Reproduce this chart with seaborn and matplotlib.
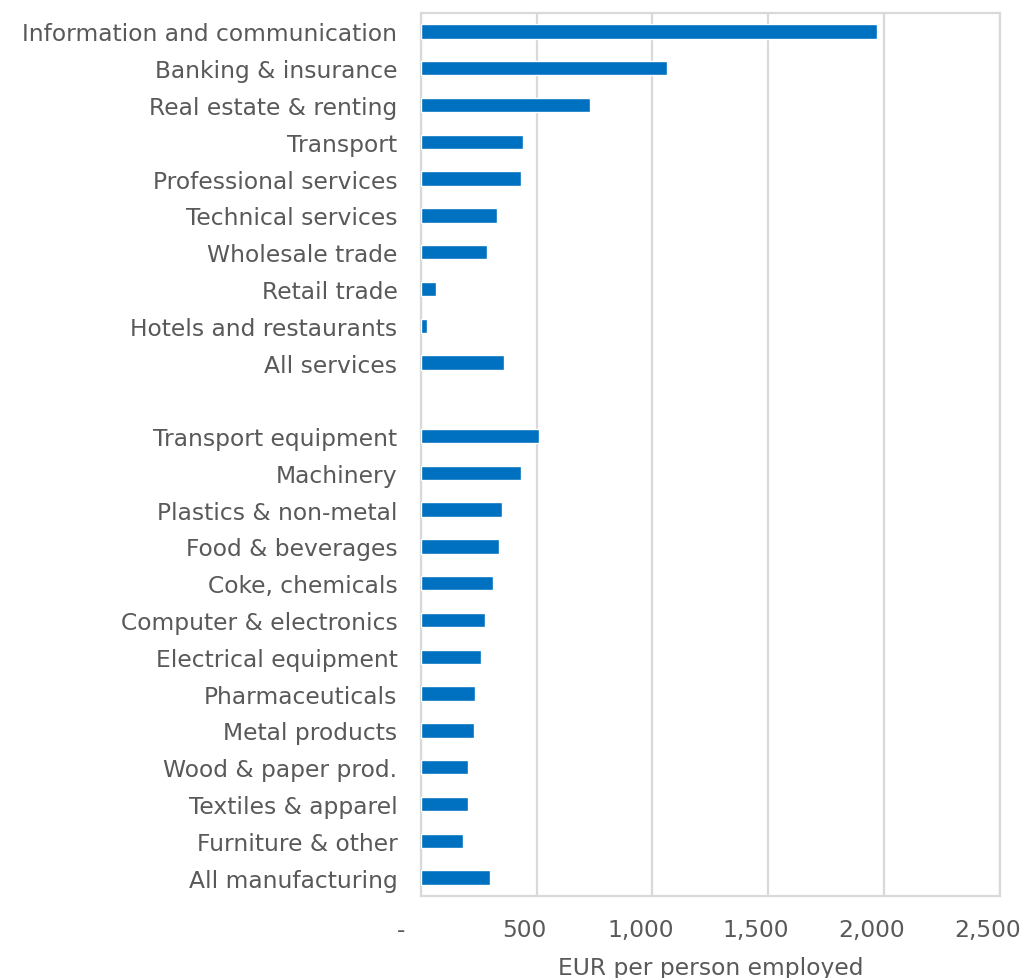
import matplotlib
matplotlib.use("Agg")
import matplotlib.pyplot as plt
import matplotlib.transforms as mtransforms
import seaborn as sns
import pandas as pd

# Sectors (services block, spacer, manufacturing block)
services = [
    "Information and communication",
    "Banking & insurance",
    "Real estate & renting",
    "Transport",
    "Professional services",
    "Technical services",
    "Wholesale trade",
    "Retail trade",
    "Hotels and restaurants",
    "All services",
]
services_values = [1970, 1065, 730, 440, 430, 330, 285, 65, 25, 360]

manufacturing = [
    "Transport equipment",
    "Machinery",
    "Plastics & non-metal",
    "Food & beverages",
    "Coke, chemicals",
    "Computer & electronics",
    "Electrical equipment",
    "Pharmaceuticals",
    "Metal products",
    "Wood & paper prod.",
    "Textiles & apparel",
    "Furniture & other",
    "All manufacturing",
]
manufacturing_values = [510, 430, 350, 335, 310, 275, 260, 235, 230, 205, 205, 180, 300]

x_ticks = [0, 500, 1000, 1500, 2000, 2500]
x_tick_labels = ["-", "500", "1,000", "1,500", "2,000", "2,500"]
x_title = "EUR per person employed"

SPACER = " "
order = services + [SPACER] + manufacturing

df = pd.DataFrame({
    "sector": services + manufacturing,
    "value": services_values + manufacturing_values,
})

BLUE = "#0070C0"
TEXT = "#595959"
GRID = "#D9D9D9"
FS = 16.8

sns.set_theme(style="white")
plt.rcParams["font.family"] = ["DejaVu Sans"]

fig = plt.figure(figsize=(10.22, 9.79), dpi=100)
ax = fig.add_axes([0.412, 0.0838, 0.566, 0.9019])

sns.barplot(data=df, x="value", y="sector", order=order, color=BLUE,
            saturation=1, width=0.39, orient="h", ax=ax, zorder=3)

ax.set_xlim(0, 2500)
ax.set_ylim(len(order) - 0.5, -0.5)
ax.set_xticks(x_ticks)
ax.set_xticklabels(x_tick_labels)
ax.set_xlabel(x_title, fontsize=FS, color=TEXT, labelpad=11)
ax.set_ylabel("")

ax.grid(axis="x", color=GRID, linewidth=1.6, zorder=0)
ax.grid(axis="y", visible=False)
ax.set_axisbelow(True)
for sp in ax.spines.values():
    sp.set_visible(True)
    sp.set_color(GRID)
    sp.set_linewidth(1.6)

ax.tick_params(axis="both", length=0, colors=TEXT, labelsize=FS)
ax.tick_params(axis="y", pad=17)
ax.tick_params(axis="x", pad=16)

# accounting-style number format leaves right padding on the axis labels
for i, lab in enumerate(ax.get_xticklabels()):
    shift = -20 if i == 0 else -12
    lab.set_transform(lab.get_transform() +
                      mtransforms.ScaledTranslation(shift / 100, 0, fig.dpi_scale_trans))

fig.savefig("out.png", dpi=100)
